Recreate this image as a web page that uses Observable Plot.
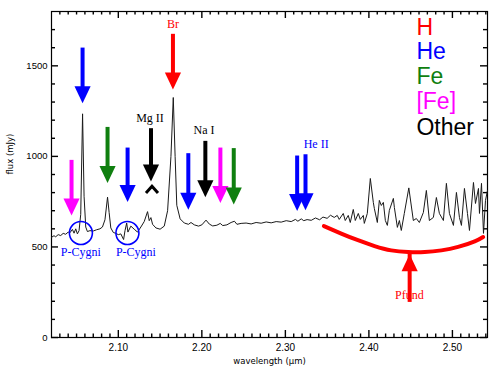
<!DOCTYPE html>
<html><head><meta charset="utf-8">
<script src="https://cdn.jsdelivr.net/npm/d3@7"></script>
<script src="https://cdn.jsdelivr.net/npm/@observablehq/plot@0.6"></script>
<style>body{margin:0;background:#fff}#chart svg{display:block}</style>
</head><body><div id="chart"></div>
<script>
// Spectrum (wavelength in µm, flux in mJy)
const wavelength = [2.020,2.023,2.025,2.028,2.031,2.034,2.037,2.040,2.042,2.045,2.047,2.049,2.051,2.053,2.055,2.0572,2.059,2.061,2.063,2.066,2.070,2.074,2.078,2.081,2.084,2.0871,2.089,2.091,2.094,2.097,2.100,2.103,2.1063,2.108,2.110,2.1115,2.115,2.119,2.123,2.127,2.131,2.135,2.137,2.139,2.141,2.145,2.150,2.155,2.159,2.163,2.1658,2.168,2.170,2.174,2.179,2.184,2.187,2.191,2.196,2.200,2.205,2.209,2.213,2.218,2.222,2.225,2.230,2.235,2.239,2.242,2.247,2.253,2.259,2.265,2.271,2.277,2.283,2.289,2.295,2.301,2.307,2.312,2.315,2.319,2.322,2.326,2.331,2.336,2.341,2.345,2.350,2.354,2.3585,2.3621,2.3645,2.3693,2.3717,2.3753,2.3777,2.3813,2.3837,2.3873,2.3897,2.3933,2.3945,2.3981,2.4017,2.4053,2.4065,2.4101,2.4125,2.4149,2.4173,2.4197,2.4221,2.4245,2.4293,2.4305,2.4341,2.4365,2.4388,2.4424,2.4478,2.4532,2.4568,2.4604,2.4652,2.4688,2.4724,2.4772,2.4808,2.4844,2.4892,2.4928,2.4964,2.5012,2.5048,2.5084,2.5108,2.5144,2.5180,2.5204,2.5252,2.5276,2.5312,2.5324,2.5348,2.5372,2.5396,2.5420];
const flux = [553,562,556,568,563,575,570,582,578,597,576,600,572,590,680,1235,780,610,585,590,588,595,600,610,650,775,690,605,580,575,568,572,541,590,632,582,615,598,582,610,640,695,645,662,625,605,598,615,700,1000,1325,1000,730,655,632,625,635,622,615,622,648,626,616,620,630,618,622,635,642,625,630,632,627,635,631,638,633,640,637,645,640,652,642,655,645,651,647,660,650,665,658,675,663,674,652,685,646,674,635,707,646,685,652,674,630,685,878,746,713,635,757,729,746,646,619,702,768,718,608,646,591,685,826,646,657,635,690,812,646,663,773,685,646,851,685,619,801,663,619,823,685,591,856,740,823,685,851,575,757,812];

// Line identification arrows (downward)
const arrowWl      = [2.044, 2.0572, 2.0871, 2.1111, 2.1391, 2.1654, 2.1838, 2.2042, 2.2222, 2.2382, 2.3141, 2.3241];
const arrowTop     = [978, 1598, 1160, 1046, 1153, 1674, 1015, 1083, 1046, 1043, 1002, 1009];
const arrowTip     = [674, 1294, 853, 748, 862, 1369, 706, 775, 742, 735, 698, 702];
const arrowSpecies = ["[Fe]","He","Fe","He","Other","H","He","Other","[Fe]","Fe","He","He"];

// Species legend
const species      = ["H","He","Fe","[Fe]","Other"];
const speciesColor = ["#ff0000","#0000ff","#0f7f0f","#ff00ff","#000000"];
const legendWl     = 2.4569;
const legendFlux   = [1672, 1536, 1398, 1260, 1116];

// Line labels
const labelText  = ["Br","Mg II","Na I","He II","P-Cygni","P-Cygni","Pfund"];
const labelWl    = [2.1654, 2.1379, 2.2026, 2.3369, 2.0551, 2.1211, 2.4484];
const labelFlux  = [1729, 1210, 1144, 1066, 470, 470, 232];
const labelSpec  = ["H","Other","Other","He","He","He","H"];

// P-Cygni profile markers
const pCygniWl   = [2.0552, 2.1109];
const pCygniFlux = [577, 577];

// Mg II broken marker
const chevronWl = [2.1403];
const chevronFlux = [818];

// Pfund continuum curve
const pfundWl   = [2.3461,2.3669,2.3869,2.4068,2.4268,2.4469,2.4668,2.4868,2.5068,2.5267,2.5368];
const pfundFlux = [615,574,537,505,481,472,472,481,500,531,555];
const pfundArrowWl = [2.4488];
const pfundArrowBottom = [260];
const pfundArrowTip = [459];

// Axis ticks
const xDomain = [2.02, 2.542];
const yDomain = [0, 1800];
const xMajor = [2.10, 2.20, 2.30, 2.40, 2.50];
const xMinor = d3.range(2.03, 2.545, 0.01).map(v => +v.toFixed(2)).filter(v => !xMajor.includes(v));
const yMajor = [0, 500, 1000, 1500];
const yMinor = d3.range(100, 1800, 100).filter(v => !yMajor.includes(v));

const colorOf = Object.fromEntries(species.map((s, i) => [s, speciesColor[i]]));

const spectrum = wavelength.map((w, i) => ({w, f: flux[i]}));
const arrows = arrowWl.map((w, i) => ({w, top: arrowTop[i], tip: arrowTip[i], c: colorOf[arrowSpecies[i]]}));
const legend = species.map((s, i) => ({s, f: legendFlux[i], c: speciesColor[i]}));
const labels = labelText.map((t, i) => ({t, w: labelWl[i], f: labelFlux[i], c: colorOf[labelSpec[i]]}));
const pcyg = pCygniWl.map((w, i) => ({w, f: pCygniFlux[i]}));
const chev = chevronWl.map((w, i) => ({w, f: chevronFlux[i]}));
const pfund = pfundWl.map((w, i) => ({w, f: pfundFlux[i]}));
const pfArrow = pfundArrowWl.map((w, i) => ({w, b: pfundArrowBottom[i], t: pfundArrowTip[i]}));

const downTri = {draw(ctx, size) { const r = Math.sqrt(size / Math.PI); const w = r * 0.95, h = r * 2; ctx.moveTo(-w, -h); ctx.lineTo(w, -h); ctx.lineTo(0, 0); ctx.closePath(); }};
const upTri = {draw(ctx, size) { const r = Math.sqrt(size / Math.PI); const w = r * 0.95, h = r * 2; ctx.moveTo(-w, h); ctx.lineTo(w, h); ctx.lineTo(0, 0); ctx.closePath(); }};
const chevron = {draw(ctx, size) { const r = Math.sqrt(size / Math.PI); ctx.moveTo(-r, r * 0.6); ctx.lineTo(0, -r * 0.5); ctx.lineTo(r, r * 0.6); }};

const W = 491, H = 369, mL = 51, mR = 4, mT = 11, mB = 32;
const fh = H - mT - mB, fw = W - mL - mR;
// pixel -> data unit factors, for inward tick lengths
const kx = (xDomain[1] - xDomain[0]) / fw;
const ky = (yDomain[1] - yDomain[0]) / fh;
const sans = "Liberation Sans, Arial, Helvetica, sans-serif";
const serif = "Liberation Serif, Times New Roman, serif";
const tk = {stroke: "#000", strokeWidth: 1.4};

const chart = Plot.plot({
  width: W, height: H,
  marginLeft: mL, marginRight: mR, marginTop: mT, marginBottom: mB,
  style: {fontFamily: sans, background: "#fff"},
  x: {domain: xDomain},
  y: {domain: yDomain},
  color: {type: "identity"},
  marks: [
    // inward ticks on all four sides
    Plot.ruleX(xMajor, {x: d => d, y1: yDomain[0], y2: yDomain[0] + 7 * ky, ...tk}),
    Plot.ruleX(xMajor, {x: d => d, y1: yDomain[1], y2: yDomain[1] - 7 * ky, ...tk}),
    Plot.ruleX(xMinor, {x: d => d, y1: yDomain[0], y2: yDomain[0] + 3.5 * ky, ...tk}),
    Plot.ruleX(xMinor, {x: d => d, y1: yDomain[1], y2: yDomain[1] - 3.5 * ky, ...tk}),
    Plot.ruleY(yMajor, {y: d => d, x1: xDomain[0], x2: xDomain[0] + 7 * kx, ...tk}),
    Plot.ruleY(yMajor, {y: d => d, x1: xDomain[1], x2: xDomain[1] - 7 * kx, ...tk}),
    Plot.ruleY(yMinor, {y: d => d, x1: xDomain[0], x2: xDomain[0] + 4 * kx, ...tk}),
    Plot.ruleY(yMinor, {y: d => d, x1: xDomain[1], x2: xDomain[1] - 4 * kx, ...tk}),
    Plot.axisX({ticks: xMajor, tickSize: 0, tickPadding: 6, tickFormat: ".2f", label: null, fontSize: 10}),
    Plot.axisY({ticks: yMajor, tickSize: 0, tickPadding: 4, tickFormat: "d", label: null, fontSize: 9.5}),
    Plot.text(["wavelength (µm)"], {frameAnchor: "bottom", dy: 26, fontSize: 8.5, fontFamily: "DejaVu Sans"}),
    Plot.text(["flux (mJy)"], {frameAnchor: "left", dx: -41, rotate: -90, fontSize: 8.5, fontFamily: "DejaVu Sans"}),
    Plot.frame({stroke: "#000", strokeWidth: 1.2}),
    // spectrum
    Plot.line(spectrum, {x: "w", y: "f", stroke: "#1a1a1a", strokeWidth: 1}),
    // Pfund curve and arrow
    Plot.line(pfund, {x: "w", y: "f", stroke: "#ff0000", strokeWidth: 4, curve: "natural"}),
    Plot.ruleX(pfArrow, {x: "w", y1: "b", y2: "t", stroke: "#ff0000", strokeWidth: 4, insetTop: 12}),
    Plot.dot(pfArrow, {x: "w", y: "t", symbol: upTri, r: 8.5, fill: "#ff0000", stroke: null}),
    // line arrows
    Plot.ruleX(arrows, {x: "w", y1: "top", y2: "tip", stroke: "c", strokeWidth: 4, insetBottom: 12}),
    Plot.dot(arrows, {x: "w", y: "tip", symbol: downTri, r: 8.5, fill: "c", stroke: null}),
    Plot.dot(chev, {x: "w", y: "f", symbol: chevron, r: 6, stroke: "#000", strokeWidth: 3, fill: "none"}),
    // P-Cygni circles
    Plot.dot(pcyg, {x: "w", y: "f", r: 11.5, stroke: "#0000ff", strokeWidth: 1.6, fill: "none"}),
    // labels
    Plot.text(labels, {x: "w", y: "f", text: "t", fill: "c", fontSize: 12, fontFamily: serif}),
    Plot.text(legend, {x: () => legendWl, y: "f", text: "s", fill: "c", fontSize: 23, fontFamily: sans, textAnchor: "start", lineAnchor: "bottom"})
  ]
});
document.getElementById("chart").append(chart);
</script>
</body></html>
